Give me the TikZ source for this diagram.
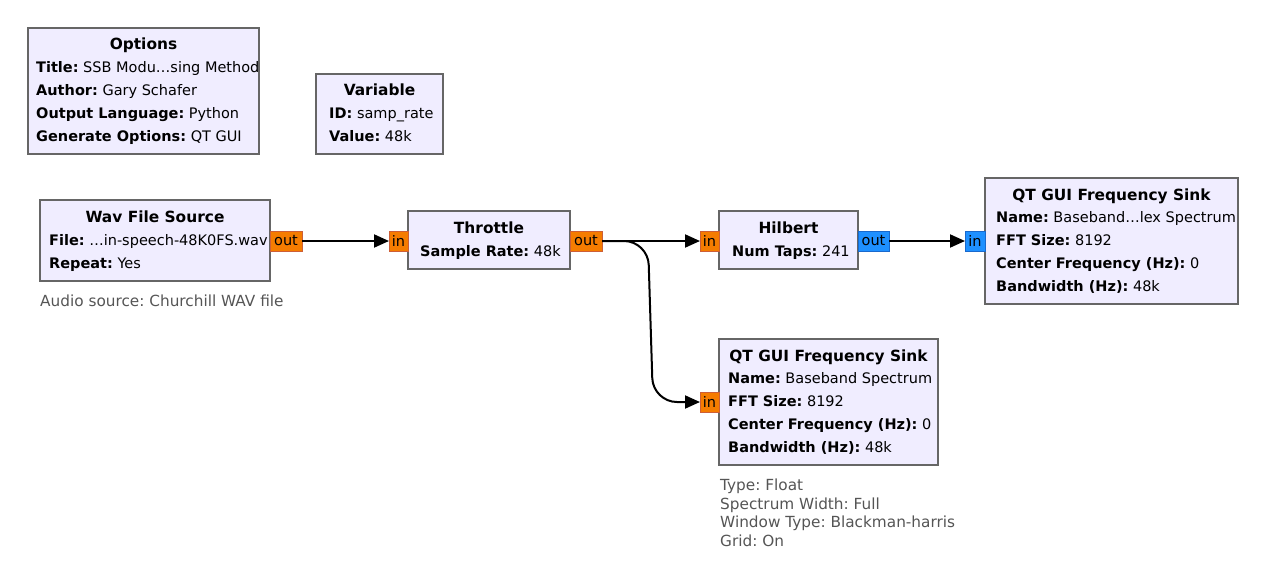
\documentclass[tikz,border=0pt]{standalone}
\usepackage{fontspec}
\setmainfont{DejaVu Sans}
\usetikzlibrary{arrows.meta}
\definecolor{blkfill}{RGB}{240,237,255}
\definecolor{blkdraw}{RGB}{102,102,102}
\definecolor{portor}{RGB}{245,124,0}
\definecolor{portorb}{RGB}{205,95,55}
\definecolor{portbl}{RGB}{30,144,255}
\definecolor{portblb}{RGB}{25,105,205}
\definecolor{cmt}{RGB}{85,85,85}
\frenchspacing
\begin{document}
\begin{tikzpicture}[x=1pt,y=-1pt,
  blk/.style={draw=blkdraw, fill=blkfill, line width=2pt, anchor=north west, inner sep=0pt, outer sep=0pt},
  ttl/.style={anchor=base, inner sep=0pt, font=\fontsize{15.4}{18}\selectfont\bfseries},
  prm/.style={anchor=base west, inner sep=0pt, font=\fontsize{14.5}{17}\selectfont},
  cmtx/.style={anchor=base west, inner sep=0pt, font=\fontsize{15.3}{18.8}\selectfont, text=cmt, align=left},
  port/.style={line width=1pt, inner sep=0pt, outer sep=0pt, minimum height=20pt, font=\fontsize{14.5}{17}\selectfont},
  por/.style={port, fill=portor, draw=portorb},
  pbl/.style={port, fill=portbl, draw=portblb},
  conn/.style={line width=2pt, -{Triangle[length=15pt,width=13pt]}}
]
\useasboundingbox (0,0) rectangle (1268,582);

% Options
\node[blk, minimum width=231pt, minimum height=126pt] (opt) at (28,28) {};
\node[ttl] (optt) at (143.5,49.5) {Options};
\node[prm] (opt1) at (36,72) {\textbf{Title:} SSB Modu…sing Method};
\node[prm] (opt2) at (36,95) {\textbf{Author:} Gary Schafer};
\node[prm] (opt3) at (36,118) {\textbf{Output Language:} Python};
\node[prm] (opt4) at (36,141) {\textbf{Generate Options:} QT GUI};

% Variable
\node[blk, minimum width=127pt, minimum height=80pt] (var) at (316,74) {};
\node[ttl] (vart) at (379.5,95.5) {Variable};
\node[prm] (var1) at (329,118) {\textbf{ID:} samp\_rate};
\node[prm] (var2) at (329,141) {\textbf{Value:} 48k};

% Wav File Source
\node[blk, minimum width=230pt, minimum height=81pt] (wav) at (40,200) {};
\node[ttl] (wavt) at (155,222.5) {Wav File Source};
\node[prm] (wav1) at (49,245.5) {\textbf{File:} …in-speech-48K0FS.wav};
\node[prm] (wav2) at (49,268.5) {\textbf{Repeat:} Yes};
\node[por, minimum width=32pt] (wavout) at (286,241) {out};
\node[cmtx] (wavc) at (40,306) {Audio source: Churchill WAV file};

% Throttle
\node[blk, minimum width=162pt, minimum height=58pt] (thr) at (408,211) {};
\node[ttl] (thrt) at (489,233.5) {Throttle};
\node[prm] (thr1) at (420,256) {\textbf{Sample Rate:} 48k};
\node[por, minimum width=19pt] (thrin) at (398.5,241) {in};
\node[por, minimum width=32pt] (throut) at (586,241) {out};

% Hilbert
\node[blk, minimum width=139pt, minimum height=58pt] (hil) at (719,211) {};
\node[ttl] (hilt) at (788.5,233.5) {Hilbert};
\node[prm] (hil1) at (732,256) {\textbf{Num Taps:} 241};
\node[por, minimum width=19pt] (hilin) at (709.5,241) {in};
\node[pbl, minimum width=31pt] (hilout) at (873.5,241) {out};

% QT GUI Frequency Sink (complex)
\node[blk, minimum width=253pt, minimum height=126pt] (snka) at (985,178) {};
\node[ttl] (snkat) at (1111.5,200) {QT GUI Frequency Sink};
\node[prm] (snka1) at (996,222.5) {\textbf{Name:} Baseband…lex Spectrum};
\node[prm] (snka2) at (996,245.5) {\textbf{FFT Size:} 8192};
\node[prm] (snka3) at (996,268.5) {\textbf{Center Frequency (Hz):} 0};
\node[prm] (snka4) at (996,291.5) {\textbf{Bandwidth (Hz):} 48k};
\node[pbl, minimum width=20pt] (snkain) at (975,241) {in};

% QT GUI Frequency Sink (baseband)
\node[blk, minimum width=219pt, minimum height=126pt] (snkb) at (719,339) {};
\node[ttl] (snkbt) at (828.5,361) {QT GUI Frequency Sink};
\node[prm] (snkb1) at (728,383.5) {\textbf{Name:} Baseband Spectrum};
\node[prm] (snkb2) at (728,406.5) {\textbf{FFT Size:} 8192};
\node[prm] (snkb3) at (728,429.5) {\textbf{Center Frequency (Hz):} 0};
\node[prm] (snkb4) at (728,452.5) {\textbf{Bandwidth (Hz):} 48k};
\node[por, minimum width=19pt] (snkbin) at (709.5,402) {in};
\node[cmtx, anchor=north west] (snkbc) at (720,478.5) {Type: Float\\Spectrum Width: Full\\Window Type: Blackman-harris\\Grid: On};

% connections
\draw[conn] (wavout.east) -- (thrin.west);
\draw[conn] (throut.east) -- (hilin.west);
\draw[conn] (hilout.east) -- (snkain.west);
\draw[conn, rounded corners=24pt] (throut.east) -- (648,241) -- (653,402) -- (snkbin.west);
\end{tikzpicture}
\end{document}
